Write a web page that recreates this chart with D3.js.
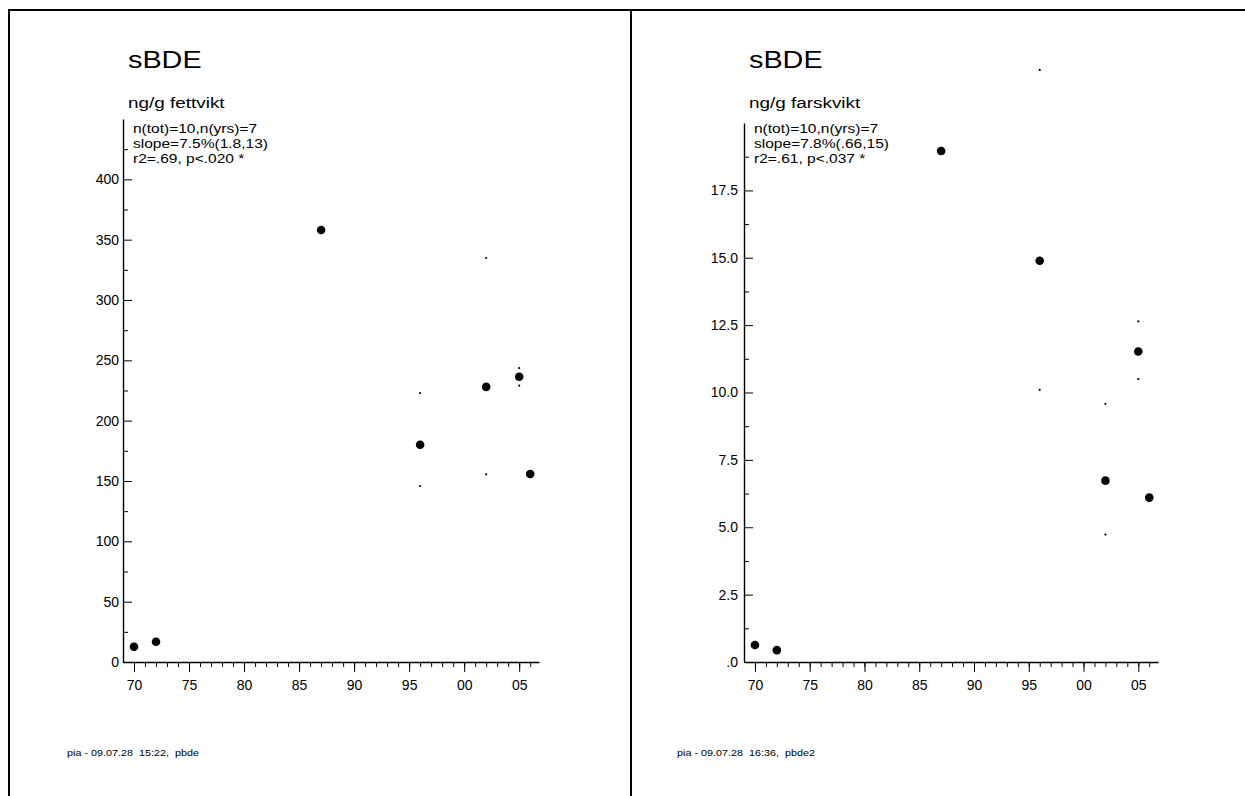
<!DOCTYPE html>
<html>
<head>
<meta charset="utf-8">
<script src="https://cdn.jsdelivr.net/npm/d3@7"></script>
<style>
  body { margin: 0; background: #fff; }
  text { font-family: "Liberation Sans", Arial, sans-serif; fill: #000; }
  .axis path, .axis line { stroke: #000; }
  .axis path { stroke-width: 1.4; }
  .axis text { font-size: 14px; font-family: "Liberation Sans", Arial, sans-serif; fill: #000; }
</style>
</head>
<body>
<div id="chart"></div>
<script>
// Data
var years = [1970, 1972, 1987, 1996, 2002, 2005, 2006];

// ng/g fettvikt (lipid weight)
var fatMean = [12.7, 16.8, 358, 180, 228, 236.4, 155.8];
var fatLow  = [null, null, null, 145.8, 155.5, 229, null];
var fatHigh = [null, null, null, 222.9, 334.8, 243.6, null];

// ng/g farskvikt (fresh weight)
var freshMean = [0.63, 0.44, 18.96, 14.89, 6.73, 11.52, 6.1];
var freshLow  = [null, null, null, 10.1, 4.73, 10.5, null];
var freshHigh = [null, null, null, 21.97, 9.58, 12.64, null];

var xMajor = [1970, 1975, 1980, 1985, 1990, 1995, 2000, 2005];
var xMinor = d3.range(1970, 2007);
var fatTicks = [0, 50, 100, 150, 200, 250, 300, 350, 400];
var fatMinor = [25, 75, 125, 175, 225, 275, 325, 375, 425];
var freshTicks = [0, 2.5, 5, 7.5, 10, 12.5, 15, 17.5];
var freshMinor = [1.25, 3.75, 6.25, 8.75, 11.25, 13.75, 16.25, 18.75];

var panels = [
  { left: 123, right: 539, top: 119, title: "sBDE", unit: "ng/g fettvikt",
    stats: ["n(tot)=10,n(yrs)=7", "slope=7.5%(1.8,13)", "r2=.69, p<.020 *"],
    note: "pia - 09.07.28  15:22,  pbde", noteX: 67,
    mean: fatMean, low: fatLow, high: fatHigh, yMax: 450,
    ticks: fatTicks, minor: fatMinor, fmt: d3.format("d"), pad: 4 },
  { left: 744, right: 1158, top: 123, title: "sBDE", unit: "ng/g farskvikt",
    stats: ["n(tot)=10,n(yrs)=7", "slope=7.8%(.66,15)", "r2=.61, p<.037 *"],
    note: "pia - 09.07.28  16:36,  pbde2", noteX: 677,
    mean: freshMean, low: freshLow, high: freshHigh, yMax: 20,
    ticks: freshTicks, minor: freshMinor,
    fmt: function(d) { return d3.format(".1f")(d).replace(/^0\./, "."); }, pad: 6 }
];

var width = 1245,
    height = 796,
    plotBottom = 662;

var svg = d3.select("#chart")
            .append("svg")
            .attr("width", width)
            .attr("height", height);

// Frame lines
svg.append("path")
   .attr("d", "M9,796 V10 H1245 M631,10 V796")
   .attr("fill", "none")
   .attr("stroke", "#000")
   .attr("stroke-width", 2);

function stretched(g, x, y, size, sx, txt) {
  return g.append("text")
          .attr("transform", "translate(" + x + "," + y + ") scale(" + sx + ",1)")
          .style("font-size", size + "px")
          .style("white-space", "pre")
          .text(txt);
}

function drawPanel(p) {
  var g = svg.append("g");

  var xScale = d3.scaleLinear()
                 .domain([1969, 2006.8])
                 .range([p.left, p.right]);

  var yScale = d3.scaleLinear()
                 .domain([0, p.yMax])
                 .range([plotBottom, p.top]);

  // x-axis, yearly minor ticks then major labelled ticks
  g.append("g")
   .attr("class", "axis")
   .attr("transform", "translate(0," + plotBottom + ")")
   .call(d3.axisBottom(xScale).tickValues(xMinor).tickSize(5).tickFormat(""))
   .select(".domain").remove();

  g.append("g")
   .attr("class", "axis")
   .attr("transform", "translate(0," + plotBottom + ")")
   .call(d3.axisBottom(xScale)
           .tickValues(xMajor)
           .tickSizeInner(10)
           .tickSizeOuter(0)
           .tickPadding(8)
           .tickFormat(function(d) { return d3.format("02d")(d % 100); }));

  // y-axis, ticks pointing inwards
  g.append("g")
   .attr("class", "axis")
   .attr("transform", "translate(" + p.left + ",0)")
   .call(d3.axisLeft(yScale).tickValues(p.minor).tickSize(-5).tickFormat(""))
   .select(".domain").remove();

  g.append("g")
   .attr("class", "axis")
   .attr("transform", "translate(" + p.left + ",0)")
   .call(d3.axisLeft(yScale)
           .tickValues(p.ticks)
           .tickSizeInner(-9)
           .tickSizeOuter(0)
           .tickPadding(p.pad)
           .tickFormat(p.fmt));

  // Texts
  stretched(g, p.left + 5, 68, 24, 1.2, p.title);
  stretched(g, p.left + 5, 107.5, 15.5, 1.22, p.unit);
  p.stats.forEach(function(s, i) {
    stretched(g, p.left + 10, 133 + i * 15, 13.5, 1.15, s);
  });
  stretched(g, p.noteX, 756, 9, 1.2, p.note);

  // Small dots (interval ends) and large dots (means)
  var rows = years.map(function(y, i) {
    return { year: y, mean: p.mean[i], low: p.low[i], high: p.high[i] };
  });

  var ends = [];
  rows.forEach(function(d) {
    if (d.low != null) ends.push({ year: d.year, v: d.low });
    if (d.high != null) ends.push({ year: d.year, v: d.high });
  });

  g.selectAll(".end")
   .data(ends)
   .enter()
   .append("circle")
   .attr("class", "end")
   .attr("cx", function(d) { return xScale(d.year); })
   .attr("cy", function(d) { return yScale(d.v); })
   .attr("r", 1.1)
   .attr("fill", "#000");

  g.selectAll(".mean")
   .data(rows)
   .enter()
   .append("circle")
   .attr("class", "mean")
   .attr("cx", function(d) { return xScale(d.year); })
   .attr("cy", function(d) { return yScale(d.mean); })
   .attr("r", 4.3)
   .attr("fill", "#000");
}

panels.forEach(drawPanel);
</script>
</body>
</html>
